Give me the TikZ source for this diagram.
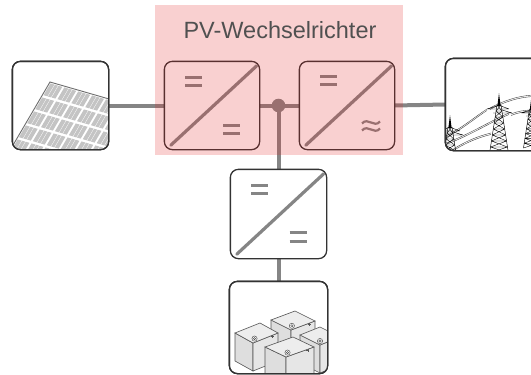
\documentclass[tikz,border=0pt]{standalone}
\usepackage{fontspec}
\setmainfont{Liberation Sans}
\usetikzlibrary{calc}

\definecolor{wiregrey}{HTML}{858585}
\definecolor{edgegrey}{HTML}{333333}
\definecolor{tint}{RGB}{228,41,41}
\definecolor{labelgrey}{HTML}{505050}
\definecolor{cellgrey}{HTML}{C4C4C4}
\definecolor{framegrey}{HTML}{6E6E6E}
\definecolor{battop}{HTML}{EDEDED}
\definecolor{batleft}{HTML}{DEDEDE}
\definecolor{batright}{HTML}{E6E6E6}
\definecolor{batline}{HTML}{555555}

% one battery block: left corner of the lid, back vector, front vector, height
\newcommand\battblock[7]{%
  \filldraw[fill=batleft, draw=batline, line width=0.6pt]
    (#1,#2) -- ++(#5,#6) -- ++(0,#7) -- ++(-#5,-#6) -- cycle;
  \filldraw[fill=batright, draw=batline, line width=0.6pt]
    (#1,#2) ++(#5,#6) -- ++(#3,#4) -- ++(0,#7) -- ++(-#3,-#4) -- cycle;
  \filldraw[fill=battop, draw=batline, line width=0.6pt]
    (#1,#2) -- ++(#3,#4) -- ++(#5,#6) -- ++(-#3,-#4) -- cycle;
  \filldraw[fill=white, draw=batline, line width=0.5pt]
    ($(#1,#2)+0.78*(#5,#6)+0.22*(#3,#4)$) circle (2.6);
  \draw[batline, line width=0.5pt]
    ($(#1,#2)+0.78*(#5,#6)+0.22*(#3,#4)$) circle (1.2);
  \draw[batline, line width=0.5pt]
    ($(#1,#2)+(#5,#6)+0.78*(#3,#4)$) ++(-1.5,1.5) -- ++(3,0) ++(-1.5,-1.5) -- ++(0,3);
}

\tikzset{
  unit/.style={draw=edgegrey, fill=white, rounded corners=8pt, line width=1.3pt,
               minimum width=94pt, minimum height=87pt, inner sep=0pt},
  wire/.style={draw=wiregrey, line width=4pt},
  symb/.style={draw=wiregrey, line width=3.2pt},
  eqs/.pic={\draw[symb] (-8.5,-4.2) -- (8.5,-4.2) (-8.5,4.2) -- (8.5,4.2);},
  wave/.pic={\draw[symb, line width=2.2pt]
      (-9,-2.5) .. controls (-3,-9.5) and (3,2.5) .. (9,-4.5)
      (-9,4.5) .. controls (-3,-2.5) and (3,9.5) .. (9,2.5);},
  diag/.style={symb, line cap=round},
  pylon/.pic={
    \fill[black] (0,0) -- (1.6,13) -- (-1.6,13) -- cycle;
    \draw[black, line width=0.45pt] (-2,12) -- (-9.4,60) (2,12) -- (9.4,60);
    \foreach \k in {0,...,7}{
      \pgfmathsetmacro\ya{12+6*\k}\pgfmathsetmacro\yb{18+6*\k}
      \pgfmathsetmacro\wa{2+0.93*\k}\pgfmathsetmacro\wb{2.93+0.93*\k}
      \draw[black, line width=0.4pt] (-\wa,\ya) -- (\wb,\yb) (\wa,\ya) -- (-\wb,\yb) (-\wa,\ya) -- (\wa,\ya);
    }
    \draw[black, line width=0.45pt] (-12,16) -- (10,16) (-6,20) -- (13,20)
      (-12,16) -- (-2,13) (10,16) -- (2,13) (13,20) -- (3,17);
  },
  cable/.style={draw=black!75, line width=0.4pt},
}

\begin{document}
\begin{tikzpicture}[x=1pt, y=-1pt]
\useasboundingbox (0,0) rectangle (531,375);
\clip (0,0) rectangle (531,375);

% nodes
\node[unit, minimum width=95pt] (pv)   at (60.5,105.5) {};
\node[unit] (dcdc) at (212,105.5) {};
\node[unit] (dcac) at (347,105.5) {};
\node[unit, minimum width=99pt, minimum height=91pt] (grid) at (495.5,104.5) {};
\node[unit, minimum width=95pt, minimum height=88pt] (bdc) at (278.5,214) {};
\node[unit, minimum width=97pt, minimum height=91pt] (bat) at (278.5,327.5) {};
\coordinate (j) at (278.5,105.5);

% connectors
\draw[wire] (pv.east) -- (dcdc.west);
\draw[wire] (dcdc.east) -- (j) -- (dcac.west);
\draw[wire] (dcac.east) -- (grid.west);
\draw[wire] (j) -- (bdc.north);
\draw[wire] (bdc.south) -- (bat.north);
\fill[wiregrey] (j) circle (6.8);

% redraw boxes over the connector ends
\foreach \n in {pv,dcdc,dcac,grid,bdc,bat}{
  \filldraw[draw=edgegrey, fill=white, rounded corners=8pt, line width=1.3pt]
    (\n.south west) rectangle (\n.north east);
}

% converter symbols
\draw[diag] ($(dcdc.south west)+(6.5,-4.5)$) -- ($(dcdc.north east)+(-3,4.5)$);
\pic at ($(dcdc.center)+(-18.5,-24)$) {eqs};
\pic at ($(dcdc.center)+(19.5,24)$) {eqs};

\draw[diag] ($(dcac.south west)+(6.5,-4.5)$) -- ($(dcac.north east)+(-3,4.5)$);
\pic at ($(dcac.center)+(-18.5,-25)$) {eqs};
\pic at ($(dcac.center)+(24,20.5)$) {wave};

\draw[diag] ($(bdc.south west)+(6.5,-4.5)$) -- ($(bdc.north east)+(-3,4.5)$);
\pic at ($(bdc.center)+(-19,-24.5)$) {eqs};
\pic at ($(bdc.center)+(19.5,23)$) {eqs};

% solar module: cells of three strips each
\begin{scope}
  \clip[rounded corners=8pt] (pv.south west) rectangle (pv.north east);
  \begin{scope}[shift={(50,82)}, x={(13.9pt,-4pt)}, y={(-8.2pt,-14pt)}]
    \foreach \i in {0,...,6}{
      \foreach \j in {0,...,5}{
        \foreach \s/\e in {0.08/0.36, 0.40/0.62, 0.66/0.93}{
          \fill[cellgrey] (\i+\s,\j+0.08) -- (\i+\e,\j+0.08) -- (\i+\e,\j+0.92) -- (\i+\s,\j+0.92) -- cycle;
        }
      }
    }
    \draw[framegrey, line width=0.9pt] (7,0) -- (0,0) -- (0,6);
  \end{scope}
\end{scope}
\draw[draw=edgegrey, rounded corners=8pt, line width=1.3pt] (pv.south west) rectangle (pv.north east);

% overhead power line
\begin{scope}
  \clip[rounded corners=8pt] (grid.south west) rectangle (grid.north east);
  \foreach \d in {0,1.5}{
    \draw[cable] (446,136+\d) .. controls (462,128+\d) and (476,116+\d) .. (487,109+\d);
    \draw[cable] (446,143+\d) .. controls (470,134+\d) and (492,120+\d) .. (509,113+\d);
    \draw[cable] (452,150+\d) .. controls (464,142+\d) and (478,136+\d) .. (491,133+\d);
    \draw[cable] (490,108+\d) .. controls (505,100+\d) and (518,96+\d) .. (533,95+\d);
    \draw[cable] (511,114+\d) .. controls (518,111+\d) and (525,110+\d) .. (533,110+\d);
  }
  \pic at (450,115) {pylon};
  \pic at (499,93) {pylon};
  \pic[scale=0.8] at (531,100) {pylon};
\end{scope}
\draw[draw=edgegrey, rounded corners=8pt, line width=1.3pt] (grid.south west) rectangle (grid.north east);

% battery pack
\begin{scope}
  \clip[rounded corners=8pt] (bat.south west) rectangle (bat.north east);
  \battblock{271}{320}{24}{-9}{20}{10}{24}
  \battblock{300}{335}{20}{-8}{20}{10}{28}
  \battblock{235}{333}{25}{-10}{18}{10}{28}
  \battblock{265}{347}{28}{-10}{21}{10}{28}
\end{scope}
\draw[draw=edgegrey, rounded corners=8pt, line width=1.3pt] (bat.south west) rectangle (bat.north east);

% inverter housing, tinted over everything it covers
\fill[tint, fill opacity=0.22] (155,5) rectangle (403,155);
\node[font=\fontsize{23.5}{28}\selectfont, text=labelgrey, anchor=base, inner sep=0pt]
  (title) at (280,38.3) {PV-Wechselrichter};
\end{tikzpicture}
\end{document}
